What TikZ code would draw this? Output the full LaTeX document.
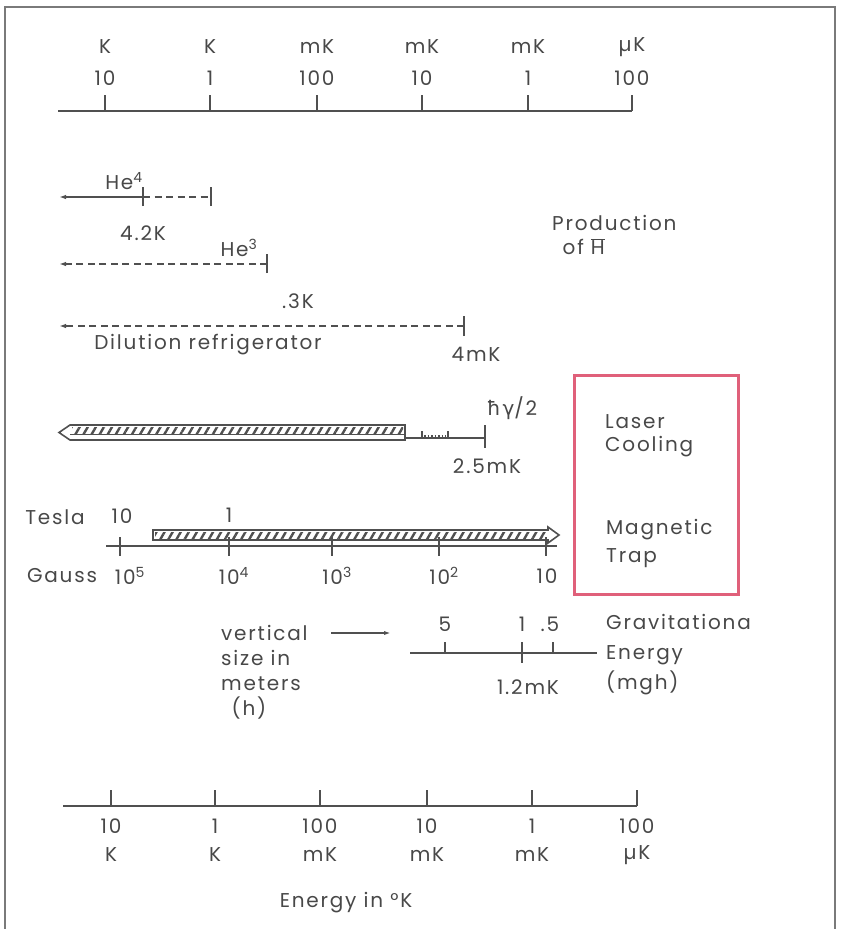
\documentclass[tikz,border=0pt]{standalone}
\usepackage{fontspec}
\setmainfont{Poppins}[LetterSpace=9]
\newfontfamily\dv{DejaVu Sans}[LetterSpace=9]
\usetikzlibrary{patterns.meta,arrows.meta}
\definecolor{lc}{HTML}{505050}
\definecolor{tc}{HTML}{484848}
\definecolor{fc}{HTML}{7A7A7A}
\definecolor{rc}{HTML}{E0607A}
\begin{document}
\begin{tikzpicture}[x=1pt,y=-1pt,
  ln/.style={draw=lc, line width=2pt},
  dsh/.style={draw=lc, line width=1.7pt, dash pattern=on 7pt off 4.5pt},
  tk/.style={draw=lc, line width=1.7pt},
  tx/.style={text=tc, font=\fontsize{20}{24}\selectfont, inner sep=0pt},
  txl/.style={tx, anchor=west, align=left},
  hatch/.style={pattern={Lines[angle=60,distance=7pt,line width=2.4pt]}, pattern color=lc},
  arr/.style={-{Latex[length=7pt,width=4.5pt]}}
]
\useasboundingbox (0,0) rectangle (841,929);
% frame
\coordinate (f1) at (5,929); \coordinate (f2) at (5,7);
\coordinate (f3) at (835,7); \coordinate (f4) at (835,929);
\draw[draw=fc, line width=2.2pt] (f1) -- (f2) -- (f3) -- (f4);

% top axis
\coordinate (ta0) at (58,111); \coordinate (ta1) at (632,111);
\draw[ln] (ta0) -- (ta1);
\foreach \x/\n/\u [count=\i] in {105/10/K, 210/1/K, 317/100/mK, 422/10/mK, 528/1/mK, 632/100/\textmu K}{
  \coordinate (tt\i) at (\x,95);
  \coordinate (tb\i) at (\x,111);
  \draw[tk] (tt\i) -- (tb\i);
  \node[tx] (tn\i) at (\x,78) {\n};
  \node[tx] (tu\i) at (\x,47) {\u};
}

% He4
\coordinate (h4a) at (143,197); \coordinate (h4l) at (59,197); \coordinate (h4b) at (211,197);
\draw[ln, arr] (h4a) -- (h4l);
\draw[dsh] (h4a) -- (h4b);
\draw[tk] ([yshift=-9pt]h4a) -- ([yshift=10pt]h4a);
\draw[tk] ([yshift=-9pt]h4b) -- ([yshift=10pt]h4b);
\node[tx] (he4) at (124,181) {He\textsuperscript{4}};
\node[tx] (k42) at (143,233) {4.2K};

% He3
\coordinate (h3a) at (267,264); \coordinate (h3l) at (59,264);
\draw[dsh, arr] (h3a) -- (h3l);
\draw[tk] ([yshift=-9pt]h3a) -- ([yshift=10pt]h3a);
\node[tx] (he3) at (239,248) {He\textsuperscript{3}};
\node[tx] (k03) at (298,301) {.3K};

% Dilution
\coordinate (dra) at (464,326); \coordinate (drl) at (59,326);
\draw[dsh, arr] (dra) -- (drl);
\draw[tk] ([yshift=-10pt]dra) -- ([yshift=10pt]dra);
\node[tx] (dil) at (208,345) {Dilution refrigerator};
\node[tx] (mk4) at (476,354) {4mK};

% Laser cooling bar
\coordinate (lb0) at (70,425); \coordinate (lb1) at (405,440);
\fill[hatch] (72,427) rectangle (403,434);
\draw[ln, line width=1.6pt] (405,425) -- (70,425) -- (59,432.5) -- (70,440) -- (405,440) -- cycle;
\draw[ln, line width=1.2pt] (70,434.5) -- (405,434.5);
\coordinate (lc0) at (405,438); \coordinate (lc1) at (485,438);
\draw[tk] (lc0) -- (lc1);
\draw[tk] (422,431) -- (422,438);
\draw[tk] (448,431) -- (448,438);
\draw[lc, line width=1.2pt, dash pattern=on 1.5pt off 2pt] (424,436) -- (446,436);
\draw[tk] (485,425) -- (485,448);
\node[tx] (hg) at (512,408) {{\dv ħγ}/2};
\node[tx] (mk25) at (487,466) {2.5mK};

% Magnetic trap axis
\coordinate (ma0) at (106,546); \coordinate (ma1) at (557,546);
\draw[ln] (ma0) -- (ma1);
\foreach \x [count=\i] in {120, 229, 332, 439, 546}{
  \coordinate (mt\i) at (\x,537);
  \coordinate (mb\i) at (\x,556);
  \draw[tk] (mt\i) -- (mb\i);
}
\node[tx] (g1) at (130,576) {10\textsuperscript{5}};
\node[tx] (g2) at (234,576) {10\textsuperscript{4}};
\node[tx] (g3) at (337,576) {10\textsuperscript{3}};
\node[tx] (g4) at (444,576) {10\textsuperscript{2}};
\node[tx] (g5) at (547,576) {10};
\node[tx] (tesla) at (55,517) {Tesla};
\node[tx] (gauss) at (62,576) {Gauss};
\node[tx] (t10) at (122,516) {10};
\node[tx] (t1) at (229,515) {1};
% hatched arrow
\fill[hatch] (155,532) rectangle (546,538);
\draw[ln, line width=1.6pt] (153,530) -- (548,530) -- (548,527) -- (559,535) -- (548,543) -- (548,540) -- (153,540) -- cycle;

% Gravitational
\node[txl, font=\fontsize{20}{25}\selectfont] (vs) at (221,672) {vertical\\size in\\meters\\\ \,(h)};
\coordinate (va0) at (331,633); \coordinate (va1) at (392,633);
\draw[ln, -{Latex[length=8pt,width=4pt]}] (va0) -- (va1);
\coordinate (ga0) at (410,653); \coordinate (ga1) at (597,653);
\draw[ln] (ga0) -- (ga1);
\draw[tk] (445,642) -- (445,653);
\draw[tk] (522,642) -- (522,663);
\draw[tk] (553,642) -- (553,653);
\node[tx] (v5) at (445,624) {5};
\node[tx] (v1) at (522,624) {1};
\node[tx] (v05) at (550,624) {.5};
\node[tx] (mk12) at (528,687) {1.2mK};
\node[txl, font=\fontsize{20}{30}\selectfont] (grav) at (606,655) {Gravitationa\\Energy\\(mgh)};

% Production
\node[txl] (prod) at (552,235) {Production\\\ \,of $\overline{\mbox{H}}$};

% red box
\coordinate (rb0) at (574,375); \coordinate (rb1) at (738,594);
\draw[draw=rc, line width=3pt] (rb0) rectangle (rb1);
\node[txl, font=\fontsize{20}{23}\selectfont] (lcool) at (605,436) {Laser\\Cooling};
\node[txl, font=\fontsize{20}{28}\selectfont] (mtrap) at (606,543) {Magnetic\\Trap};

% bottom axis
\coordinate (ba0) at (63,806); \coordinate (ba1) at (637,806);
\draw[ln] (ba0) -- (ba1);
\foreach \x/\n/\u [count=\i] in {111/10/K, 215/1/K, 320/100/mK, 427/10/mK, 532/1/mK, 637/100/\textmu K}{
  \coordinate (bt\i) at (\x,790);
  \coordinate (bb\i) at (\x,806);
  \draw[tk] (bt\i) -- (bb\i);
  \node[tx] (bn\i) at (\x,826) {\n};
  \node[tx] (bu\i) at (\x,855) {\u};
}
\node[tx] (energy) at (346,903) {Energy in °K};
\end{tikzpicture}
\end{document}
